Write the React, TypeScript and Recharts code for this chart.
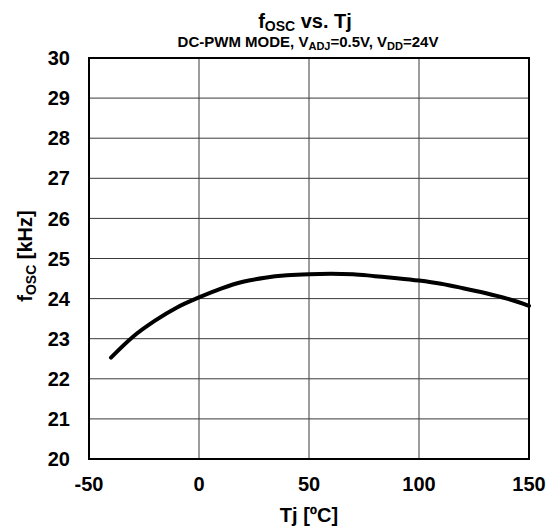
import React from 'react';
import {
  LineChart,
  Line,
  XAxis,
  YAxis,
  CartesianGrid,
  ReferenceArea,
} from 'recharts';

// junction temperature [ºC]
const tjValues = [-40, -30, -20, -10, 0, 10, 20, 30, 40, 50, 60, 70, 80, 90, 100, 110, 120, 130, 140, 150];
// oscillator frequency [kHz]
const foscValues = [
  22.53, 23.05, 23.45, 23.78, 24.03, 24.25, 24.42, 24.52, 24.58, 24.61,
  24.62, 24.61, 24.56, 24.51, 24.45, 24.37, 24.26, 24.14, 24.0, 23.82,
];
const xTicks = [-50, 0, 50, 100, 150];
const yTicks = [20, 21, 22, 23, 24, 25, 26, 27, 28, 29, 30];

const FONT = '"Liberation Sans", Arial, sans-serif';

const chartData = tjValues.map((tj, i) => ({ tj, fosc: foscValues[i] }));

function YLabel() {
  const cx = 32;
  const cy = 256;
  return (
    <text
      x={cx}
      y={cy}
      transform={`rotate(-90, ${cx}, ${cy})`}
      textAnchor="middle"
      fontFamily={FONT}
      fontWeight="bold"
      fontSize={20}
      fill="#000"
    >
      <tspan>f</tspan>
      <tspan fontSize={14} dy={4}>OSC</tspan>
      <tspan dy={-4}> [kHz]</tspan>
    </text>
  );
}

function XLabelAndTitle() {
  return (
    <g fontFamily={FONT} fontWeight="bold" fill="#000">
      <text x={309} y={522} textAnchor="middle" fontSize={20}>
        Tj [ºC]
      </text>
      <text x={305} y={28} textAnchor="middle" fontSize={20}>
        <tspan>f</tspan>
        <tspan fontSize={14} dy={3}>OSC</tspan>
        <tspan dy={-3}> vs. Tj</tspan>
      </text>
      <text x={308} y={47} textAnchor="middle" fontSize={15}>
        <tspan>DC-PWM MODE, V</tspan>
        <tspan fontSize={11} dy={3}>ADJ</tspan>
        <tspan dy={-3}>=0.5V, V</tspan>
        <tspan fontSize={11} dy={3}>DD</tspan>
        <tspan dy={-3}>=24V</tspan>
      </text>
    </g>
  );
}

export default function App() {
  const tickStyle = { fill: '#000', fontSize: 20, fontWeight: 'bold' as const, fontFamily: FONT };
  return (
    <div style={{ position: 'absolute', left: 0, top: 0, width: 555, height: 531, background: '#fff' }}>
      <LineChart
        width={555}
        height={531}
        data={chartData}
        margin={{ top: 58, right: 26, bottom: 42, left: 0 }}
      >
        <CartesianGrid stroke="#3a3a3a" strokeWidth={1} />
        <XAxis
          dataKey="tj"
          type="number"
          domain={[-50, 150]}
          ticks={xTicks}
          height={30}
          tick={tickStyle}
          tickLine={false}
          axisLine={false}
          tickSize={0}
          tickMargin={18}
          label={{ content: () => <XLabelAndTitle /> }}
        />
        <YAxis
          type="number"
          domain={[20, 30]}
          ticks={yTicks}
          width={89}
          tick={tickStyle}
          tickLine={false}
          axisLine={false}
          tickSize={0}
          tickMargin={19}
          interval={0}
          label={{ content: () => <YLabel /> }}
        />
        <ReferenceArea
          x1={-50}
          x2={150}
          y1={20}
          y2={30}
          fill="none"
          stroke="#000"
          strokeWidth={2}
          ifOverflow="visible"
        />
        <Line
          type="monotone"
          dataKey="fosc"
          stroke="#000"
          strokeWidth={4}
          strokeLinecap="round"
          dot={false}
          isAnimationActive={false}
        />
      </LineChart>
    </div>
  );
}
